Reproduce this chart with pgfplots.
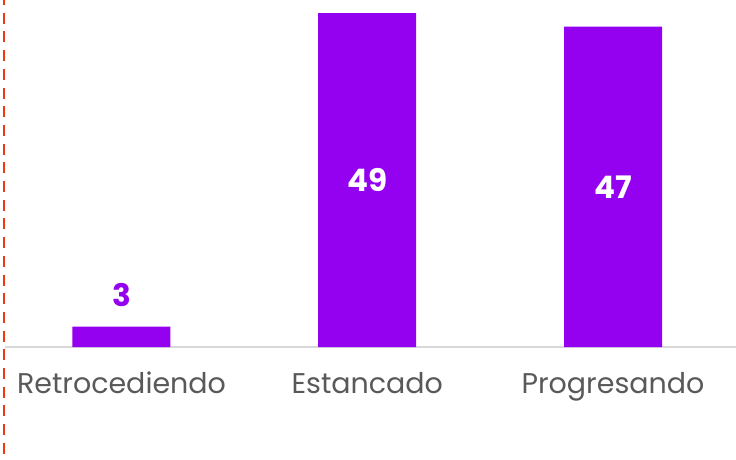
\documentclass[border=0pt]{standalone}
\usepackage{pgfplots}
\pgfplotsset{compat=1.18}
\usetikzlibrary{calc}
\usepackage{fontspec}
\setmainfont{Poppins}
\definecolor{barpurple}{RGB}{148,0,240}
\definecolor{dashred}{RGB}{240,55,20}
\definecolor{ticktext}{RGB}{89,89,89}
\definecolor{baselinegray}{RGB}{217,217,217}
\begin{document}
\begin{tikzpicture}
\begin{axis}[
  scale only axis, width=731pt, height=347pt,
  xmin=-0.474, xmax=2.5005, ymin=0, ymax=50.91,
  axis line style={draw=none},
  hide y axis,
  xtick=data, xticklabels={Retrocediendo,Estancado,Progresando},
  major tick length=0pt,
  xtick style={draw=none},
  xticklabel style={font=\fontsize{28.5}{30}\selectfont, text=ticktext, anchor=base, yshift=-46pt},
  clip=false,
]
\coordinate (bl) at (rel axis cs:0,0);
\draw[baselinegray, line width=1.8pt] (rel axis cs:0,0) -- (rel axis cs:1,0);
\addplot[ybar, bar width=98pt, bar shift=0pt, fill=barpurple, draw=none]
  coordinates {(0,3) (1,49) (2,47)};
\addplot[only marks, mark=none, nodes near coords, point meta=explicit symbolic,
  nodes near coords style={font=\fontsize{31}{34}\selectfont\bfseries, text=barpurple, anchor=base, yshift=20pt}]
  coordinates {(0,3)[3]};
\addplot[only marks, mark=none, nodes near coords, point meta=explicit symbolic,
  nodes near coords style={font=\fontsize{31}{34}\selectfont\bfseries, text=white, anchor=center}]
  coordinates {(1,24.5)[49] (2,23.5)[47]};
\end{axis}
\draw[dashred, line width=2.4pt, dash pattern=on 11pt off 7.7pt, dash phase=6pt] ($(bl)+(-1pt,347pt)$) -- ($(bl)+(-1pt,-112pt)$);
\pgfresetboundingbox
\useasboundingbox ($(bl)+(-5pt,-112pt)$) rectangle ($(bl)+(731pt,347pt)$);
\end{tikzpicture}
\end{document}
